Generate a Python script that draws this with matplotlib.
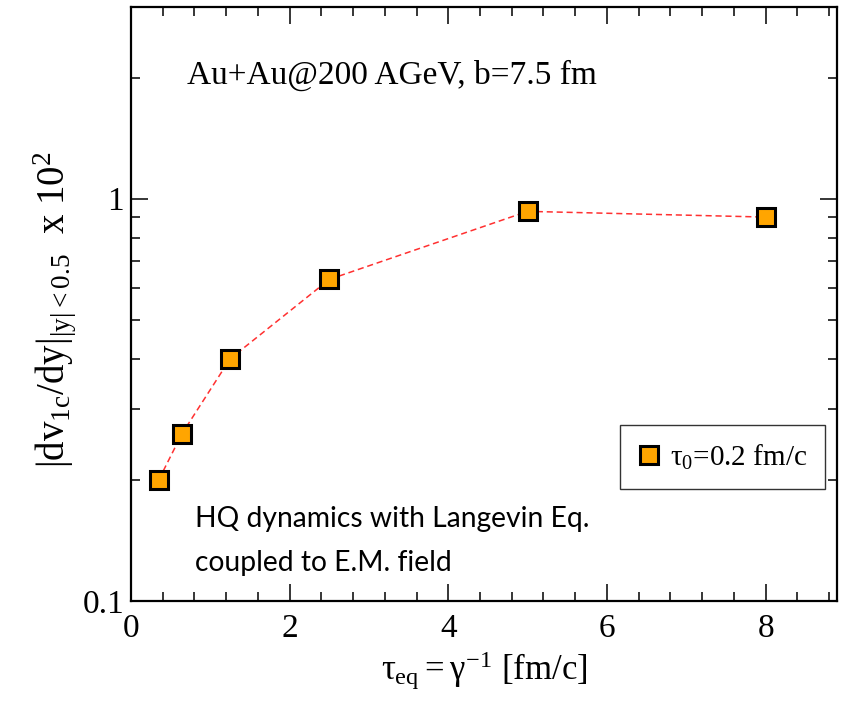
import matplotlib
matplotlib.use("Agg")
import matplotlib.pyplot as plt
from matplotlib.lines import Line2D
from matplotlib.ticker import MultipleLocator, LogLocator, FixedFormatter, FixedLocator

plt.rcParams['font.family'] = ['Liberation Serif', 'DejaVu Serif']
plt.rcParams['mathtext.fontset'] = 'custom'
plt.rcParams['mathtext.rm'] = 'Liberation Serif'
plt.rcParams['mathtext.it'] = 'Liberation Serif'
plt.rcParams['mathtext.bf'] = 'Liberation Serif:bold'

# tau_eq [fm/c] and |dv1c/dy| x 10^2
tau_eq = [0.35, 0.64, 1.25, 2.5, 5.0, 8.0]
dv1_dy = [0.20, 0.26, 0.40, 0.63, 0.93, 0.90]

x_ticks = [0, 2, 4, 6, 8]
y_ticks = [0.1, 1]
y_tick_labels = ['0.1', '1']

fig = plt.figure(figsize=(8.53, 7.01), dpi=100)
ax = fig.add_axes([0.1536, 0.1427, 0.8276, 0.8477])

ax.plot(tau_eq, dv1_dy, ls=(0, (4, 2.5)), color='#ff3030', lw=1.1, zorder=2)
ax.plot(tau_eq, dv1_dy, ls='none', marker='s', ms=12.7, mfc='#ffa500',
        mec='black', mew=2.2, zorder=3)

ax.set_yscale('log')
ax.set_xlim(0, 8.9)
ax.set_ylim(0.1, 3.0)

ax.xaxis.set_major_locator(FixedLocator(x_ticks))
ax.xaxis.set_minor_locator(MultipleLocator(0.4))
ax.yaxis.set_major_locator(FixedLocator(y_ticks))
ax.yaxis.set_major_formatter(FixedFormatter(y_tick_labels))
ax.yaxis.set_minor_locator(LogLocator(base=10, subs=range(2, 10)))
ax.yaxis.set_minor_formatter(FixedFormatter([]))

ax.tick_params(which='both', direction='in', top=True, right=True,
               labelsize=24, width=1.1, pad=5)
ax.tick_params(axis='x', which='major', pad=9)
ax.tick_params(which='major', length=12)
ax.tick_params(which='minor', length=6.5)
for s in ax.spines.values():
    s.set_linewidth(1.6)

ax.set_xlabel(r'$\tau_{\mathrm{eq}} = \gamma^{-1}$ [fm/c]', fontsize=25, labelpad=4)
ax.set_ylabel(r'$|\mathrm{dv}_{1c}/\mathrm{dy}|_{|y|{<}0.5}$  x 10$^2$', fontsize=28)
ax.yaxis.set_label_coords(-0.075, 0.49)

ax.text(0.08, 0.885, 'Au+Au@200 AGeV, b=7.5 fm', transform=ax.transAxes,
        fontsize=24, va='center', ha='left')

ax.text(0.09, 0.16, 'HQ dynamics with Langevin Eq.\ncoupled to E.M. field',
        transform=ax.transAxes, fontsize=20.3, family=['Lato', 'DejaVu Sans'],
        va='top', ha='left', linespacing=1.85)

handle = Line2D([], [], ls='none', marker='s', ms=12.7, mfc='#ffa500',
                mec='black', mew=2.2)
leg = ax.legend([handle], [r'$\tau_0$=0.2 fm/c'], loc='upper left',
                bbox_to_anchor=(0.693, 0.296), fontsize=21, frameon=True,
                fancybox=False, edgecolor='black', handlelength=0.8,
                handletextpad=0.3, borderpad=0.6, borderaxespad=0)
leg.get_frame().set_linewidth(1.0)

fig.savefig('out.png', dpi=100)
